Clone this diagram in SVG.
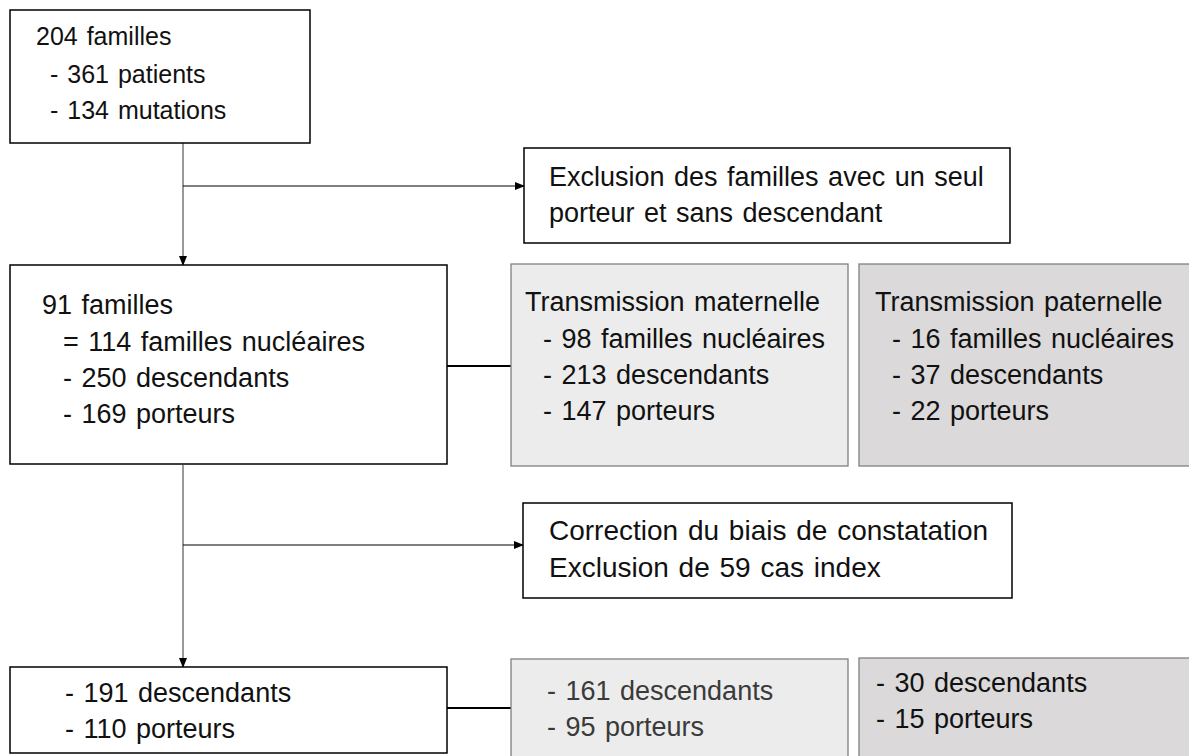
<svg xmlns="http://www.w3.org/2000/svg" width="1189" height="756" viewBox="0 0 1189 756">
<defs>
<marker id="arr" markerWidth="10" markerHeight="10" refX="9" refY="5" orient="auto" markerUnits="userSpaceOnUse">
<path d="M0,1 L10,5 L0,9 Z" fill="#000"/>
</marker>
<style>
.box{fill:#fff;stroke:#000;stroke-width:1.5}
.lt{fill:#ececec;stroke:#808080;stroke-width:1.3}
.dk{fill:#dbd9d9;stroke:#808080;stroke-width:1.3}
text{font-family:"Liberation Sans","Open Sans",sans-serif;font-size:27px;fill:#111;word-spacing:2px}
.sm{font-size:25px}
.lg{font-size:28px}
.gr{fill:#3a3a3a}
.ln{stroke:#555;stroke-width:1.2;fill:none}
.hl{stroke:#000;stroke-width:1.2;fill:none}
.th{stroke:#000;stroke-width:2.2;fill:none}
</style>
</defs>
<rect width="1189" height="756" fill="#fff"/>
<g id="connectors">
<line class="ln" x1="183" y1="143" x2="183" y2="265" marker-end="url(#arr)"/>
<line class="hl" x1="183" y1="186" x2="524" y2="186" marker-end="url(#arr)"/>
<line class="ln" x1="183" y1="465" x2="183" y2="667" marker-end="url(#arr)"/>
<line class="hl" x1="183" y1="545" x2="523" y2="545" marker-end="url(#arr)"/>
<line class="th" x1="447" y1="366" x2="511" y2="366"/>
<line class="th" x1="447" y1="708" x2="511" y2="708"/>
</g>
<g id="n1">
<rect class="box" x="10" y="10" width="300" height="133"/>
<text class="sm" x="36" y="45">204 familles</text>
<text class="sm" x="50" y="83">- 361 patients</text>
<text class="sm" x="50" y="119">- 134 mutations</text>
</g>
<g id="n2">
<rect class="box" x="524" y="148" width="486" height="95"/>
<text x="549" y="186">Exclusion des familles avec un seul</text>
<text x="549" y="222">porteur et sans descendant</text>
</g>
<g id="n3">
<rect class="box" x="10" y="265" width="437" height="199"/>
<text x="42" y="314">91 familles</text>
<text x="63" y="351">= 114 familles nucléaires</text>
<text x="63" y="387">- 250 descendants</text>
<text x="63" y="423">- 169 porteurs</text>
</g>
<g id="n4">
<rect class="lt" x="511" y="264" width="337" height="202"/>
<text x="525" y="311">Transmission maternelle</text>
<text x="543" y="348">- 98 familles nucléaires</text>
<text x="543" y="384">- 213 descendants</text>
<text x="543" y="420">- 147 porteurs</text>
</g>
<g id="n5">
<rect class="dk" x="859" y="264" width="340" height="202"/>
<text x="875" y="311">Transmission paternelle</text>
<text x="892" y="348">- 16 familles nucléaires</text>
<text x="892" y="384">- 37 descendants</text>
<text x="892" y="420">- 22 porteurs</text>
</g>
<g id="n6">
<rect class="box" x="523" y="503" width="489" height="95"/>
<text class="lg" x="549" y="540">Correction du biais de constatation</text>
<text class="lg" x="549" y="577">Exclusion de 59 cas index</text>
</g>
<g id="n7">
<rect class="box" x="10" y="667" width="437" height="86"/>
<text x="65" y="702">- 191 descendants</text>
<text x="65" y="738">- 110 porteurs</text>
</g>
<g id="n8">
<rect class="lt" x="511" y="659" width="337" height="105"/>
<text class="gr" x="547" y="700">- 161 descendants</text>
<text class="gr" x="547" y="736">- 95 porteurs</text>
</g>
<g id="n9">
<rect class="dk" x="859" y="658" width="340" height="105"/>
<text x="876" y="692">- 30 descendants</text>
<text x="876" y="728">- 15 porteurs</text>
</g>
</svg>
